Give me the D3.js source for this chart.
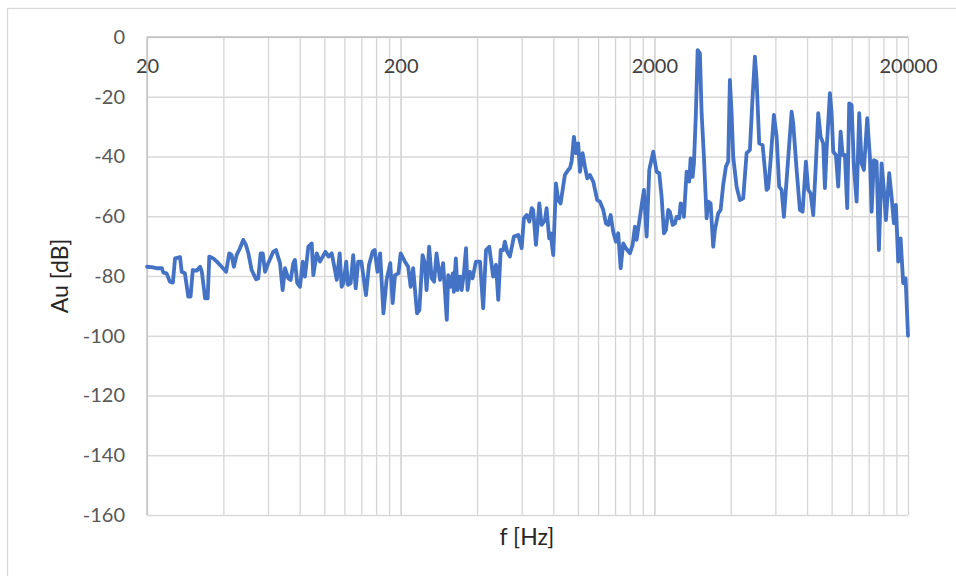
<!DOCTYPE html>
<html>
<head>
<meta charset="utf-8">
<script src="https://cdn.jsdelivr.net/npm/d3@7"></script>
<style>
  html, body { margin: 0; padding: 0; background: #fff; }
  svg { display: block; font-family: Lato, "Open Sans", sans-serif; }
</style>
</head>
<body>
<svg id="chart" width="956" height="576"></svg>
<script>
// Frequency (Hz)
const freq = [
  20, 21.2, 21.8, 22.9, 23.2, 23.9, 24.6, 25.3, 25.8, 27.0,
  27.4, 28.2, 29.1, 29.7, 30.3, 31.4, 32.4, 32.9, 33.9, 34.7,
  35.2, 36.5, 37.7, 39.4, 41.0, 42.2, 43.1, 44.0, 45.1, 46.5,
  47.9, 49.1, 50.2, 51.7, 53.8, 54.9, 56.1, 57.2, 58.4, 60.1,
  62.9, 64.5, 66.9, 68.5, 70.0, 72.1, 73.7, 75.5, 76.6, 78.2,
  80.2, 82.2, 83.9, 86.5, 89.2, 90.5, 93.3, 96.1, 101, 104,
  107, 112, 115, 117, 119, 122, 124, 127, 130, 133,
  136, 140, 146, 150, 155, 158, 162, 166, 171, 176,
  182, 186, 190, 196, 200, 208, 214, 219, 224, 232,
  237, 244, 249, 253, 259, 265, 271, 277, 286, 294,
  304, 308, 315, 321, 324, 330, 335, 343, 348, 355,
  362, 367, 375, 384, 396, 411, 423, 434, 447, 463,
  475, 485, 496, 507, 515, 526, 539, 559, 582, 600,
  612, 628, 643, 657, 666, 683, 704, 719, 741, 752,
  770, 780, 799, 819, 836, 854, 888, 915, 930, 944,
  964, 982, 1002, 1018, 1043, 1065, 1088, 1115, 1149, 1191,
  1221, 1258, 1289, 1316, 1345, 1377, 1411, 1441, 1473, 1508,
  1545, 1603, 1642, 1677, 1703, 1755, 1820, 1865, 1910, 1980,
  2042, 2091, 2137, 2182, 2222, 2269, 2304, 2362, 2411, 2449,
  2507, 2539, 2586, 2616, 2681, 2745, 2780, 2831, 2865, 2917,
  2963, 3025, 3072, 3137, 3215, 3262, 3333, 3413, 3466, 3571,
  3650, 3737, 3830, 3911, 3971, 4033, 4092, 4221, 4349, 4481,
  4622, 4762, 4880, 4983, 5061, 5182, 5344, 5457, 5542, 5623,
  5747, 5921, 6068, 6213, 6350, 6484, 6954, 7056, 7277, 7498,
  7684, 7918, 8085, 8263, 8460, 8670, 8853, 9048, 9264, 9408,
  9554, 9845, 9998, 10145, 10396, 10615, 10849, 11048, 11281, 11519,
  11730, 11988, 12240, 12544, 12843, 13126, 13403, 13811, 14153, 14373,
  14676, 15040, 15358, 15739, 16071, 16365, 16863, 17234, 17597, 17919,
  18297, 18700, 19146, 19568, 20000
];
// Amplitude (dB)
const au = [
  -76.9, -77.1, -77.4, -77.4, -78.9, -79.1, -81.9, -82.2, -74.1, -73.7,
  -78.6, -79.1, -86.9, -86.9, -78.0, -78.2, -76.9, -78.6, -87.5, -87.5,
  -73.5, -74.1, -75.2, -76.9, -78.6, -72.4, -73.0, -76.9, -73.0, -70.7,
  -67.9, -69.6, -72.4, -78.0, -81.1, -80.8, -72.4, -72.4, -78.6, -75.7,
  -71.9, -71.3, -75.7, -84.7, -77.4, -80.8, -81.3, -75.7, -74.6, -82.4,
  -83.6, -75.2, -80.2, -70.2, -69.1, -79.7, -72.4, -75.2, -71.9, -73.5,
  -72.4, -81.3, -72.4, -83.6, -82.4, -75.2, -83.0, -82.4, -73.0, -84.1,
  -75.2, -75.2, -86.4, -76.3, -71.9, -71.3, -78.6, -72.4, -92.5, -81.3,
  -75.7, -89.1, -79.7, -79.1, -72.4, -75.2, -76.9, -83.6, -77.4, -92.5,
  -91.4, -73.0, -75.7, -84.7, -70.2, -80.8, -81.9, -72.4, -81.3, -75.7,
  -94.7, -79.7, -83.6, -79.1, -85.3, -74.1, -84.7, -80.2, -84.7, -79.1,
  -70.7, -84.7, -78.6, -80.8, -75.2, -75.2, -90.8, -71.3, -70.2, -80.2,
  -76.3, -88.0, -71.3, -71.3, -68.5, -71.9, -73.5, -66.8, -66.3, -70.7,
  -60.7, -59.6, -61.8, -57.3, -57.9, -69.6, -55.7, -62.9, -61.3, -57.3,
  -67.4, -65.7, -73.0, -49.0, -54.6, -55.7, -46.2, -44.5, -43.9, -41.7,
  -33.4, -38.9, -35.6, -45.1, -38.9, -43.4, -47.3, -46.2, -48.4, -54.6,
  -55.1, -57.9, -62.4, -62.9, -59.6, -65.2, -68.5, -65.7, -77.4, -69.1,
  -70.7, -72.4, -69.6, -63.5, -67.9, -60.2, -51.2, -66.8, -44.5, -38.4,
  -45.1, -45.6, -53.5, -65.7, -64.6, -57.9, -58.5, -62.9, -62.4, -60.2,
  -60.7, -55.7, -56.2, -60.2, -45.1, -48.4, -40.6, -46.8, -42.3, -25.5,
  -4.4, -5.5, -25.5, -40.1, -60.7, -55.1, -55.7, -70.2, -64.6, -59.0,
  -57.9, -49.5, -43.4, -41.7, -14.4, -25.5, -40.1, -50.1, -54.6, -54.0,
  -38.9, -37.8, -20.0, -6.6, -14.4, -35.6, -36.2, -44.5, -51.2, -50.6,
  -41.2, -26.1, -33.4, -50.1, -51.2, -60.2, -25.0, -28.9, -44.5, -57.9,
  -58.5, -41.7, -51.2, -52.3, -59.6, -42.3, -25.5, -33.4, -35.6, -50.6,
  -37.8, -18.8, -25.5, -38.4, -39.5, -50.1, -31.7, -39.5, -39.5, -57.3,
  -22.2, -22.8, -43.4, -55.1, -25.5, -42.3, -44.5, -27.2, -40.1, -58.5,
  -41.2, -41.7, -71.3, -42.3, -51.2, -61.3, -45.6, -53.5, -62.4, -56.2,
  -75.2, -67.4, -82.4, -80.8, -100
];
const xTickLabels = [20, 200, 2000, 20000];
const yTicks = [0, -20, -40, -60, -80, -100, -120, -140, -160];
const xTitle = "f [Hz]";
const yTitle = "Au [dB]";

const svg = d3.select("#chart");
const m = { left: 147, right: 908, top: 37, bottom: 515 };

// outer chart border
svg.append("rect")
  .attr("x", 7.5).attr("y", 8.5)
  .attr("width", 960).attr("height", 600)
  .attr("fill", "#fff").attr("stroke", "#d9d9d9").attr("stroke-width", 1.3);

const x = d3.scaleLog().domain([20, 20000]).range([m.left, m.right]);
const y = d3.scaleLinear().domain([-160, 0]).range([m.bottom, m.top]);

// vertical gridlines at log minor positions
const vGrid = [];
for (let d = 0; d < 3; d++) {
  for (let k = 1; k <= 10; k++) vGrid.push(20 * Math.pow(10, d) * k);
}
svg.append("g")
  .attr("transform", `translate(0,${m.bottom})`)
  .call(d3.axisBottom(x).tickValues(vGrid).tickSize(-(m.bottom - m.top)).tickFormat(""))
  .call(g => g.select(".domain").remove())
  .call(g => g.selectAll("line").attr("stroke", "#d4d4d4").attr("stroke-width", 1.3));

// horizontal gridlines + y labels
svg.append("g")
  .attr("transform", `translate(${m.left},0)`)
  .call(d3.axisLeft(y).tickValues(yTicks).tickSize(-(m.right - m.left)).tickPadding(22).tickFormat(d => d))
  .call(g => g.select(".domain").remove())
  .call(g => g.selectAll("line").attr("stroke", "#d9d9d9").attr("stroke-width", 1.3))
  .call(g => g.selectAll("text")
    .attr("fill", "#595959").attr("font-size", 20).attr("font-family", "Lato, sans-serif"));

// left axis line
svg.append("line")
  .attr("x1", m.left).attr("x2", m.left).attr("y1", m.top).attr("y2", m.bottom)
  .attr("stroke", "#bfbfbf").attr("stroke-width", 1.3);
// top axis line (category axis at 0)
svg.append("line")
  .attr("x1", m.left).attr("x2", m.right).attr("y1", m.top).attr("y2", m.top)
  .attr("stroke", "#bfbfbf").attr("stroke-width", 1.3);

// x tick labels (below top axis)
svg.append("g")
  .attr("transform", `translate(0,${m.top})`)
  .call(d3.axisBottom(x).tickValues(xTickLabels).tickSize(0).tickPadding(22).tickFormat(d => d))
  .call(g => g.select(".domain").remove())
  .call(g => g.selectAll("text")
    .attr("fill", "#404040").attr("font-size", 20).attr("font-family", "Lato, sans-serif"));

// data line
const line = d3.line().x((d, i) => x(freq[i])).y(d => y(d));
svg.append("path")
  .datum(au)
  .attr("d", line)
  .attr("fill", "none")
  .attr("stroke", "#4472c4")
  .attr("stroke-width", 3.8)
  .attr("stroke-linejoin", "round")
  .attr("stroke-linecap", "round");

// axis titles
svg.append("text")
  .attr("x", 527).attr("y", 545)
  .attr("text-anchor", "middle")
  .attr("fill", "#262626").attr("font-size", 23).attr("font-family", "Lato, sans-serif")
  .text(xTitle);
svg.append("text")
  .attr("transform", "translate(68,276) rotate(-90)")
  .attr("text-anchor", "middle")
  .attr("fill", "#262626").attr("font-size", 23).attr("font-family", "Lato, sans-serif")
  .text(yTitle);
</script>
</body>
</html>
